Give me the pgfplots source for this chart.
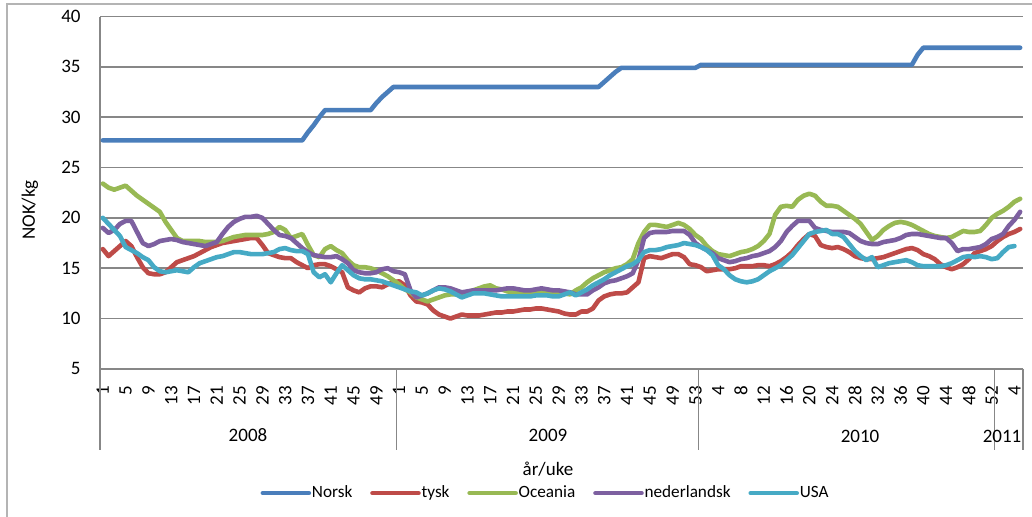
\documentclass[border=0pt]{standalone}
\usepackage{fontspec}
\setmainfont{Carlito}
\usepackage{pgfplots}
\pgfplotsset{compat=1.18}
\usepackage{pgfplotstable}
\definecolor{cNorsk}{HTML}{4A7EBB}
\definecolor{cTysk}{HTML}{BE4B48}
\definecolor{cOce}{HTML}{98B954}
\definecolor{cNed}{HTML}{7D60A0}
\definecolor{cUSA}{HTML}{46AAC5}
\definecolor{gridc}{HTML}{878787}
\definecolor{borderc}{HTML}{B4B4B4}
\pgfplotstableread{
i norsk tysk oceania ned usa
0 27.7 16.9 23.4 19.0 20.0
1 27.7 16.2 23.0 18.5 19.4
2 27.7 16.7 22.8 18.8 18.8
3 27.7 17.2 23.0 19.4 18.2
4 27.7 17.7 23.2 19.7 17.1
5 27.7 17.2 22.7 19.7 16.8
6 27.7 16.1 22.2 18.6 16.5
7 27.7 15.1 21.8 17.5 16.1
8 27.7 14.5 21.4 17.2 15.8
9 27.7 14.4 21.0 17.4 15.1
10 27.7 14.4 20.6 17.7 14.7
11 27.7 14.6 19.6 17.8 14.6
12 27.7 15.1 18.8 17.9 14.7
13 27.7 15.6 18.0 17.8 14.8
14 27.7 15.8 17.7 17.6 14.7
15 27.7 16.0 17.7 17.5 14.6
16 27.7 16.2 17.7 17.4 15.1
17 27.7 16.5 17.7 17.3 15.5
18 27.7 16.8 17.6 17.2 15.7
19 27.7 17.1 17.6 17.4 15.9
20 27.7 17.3 17.6 17.6 16.1
21 27.7 17.5 17.7 18.4 16.2
22 27.7 17.6 17.9 19.1 16.4
23 27.7 17.7 18.1 19.6 16.6
24 27.7 17.8 18.2 19.9 16.6
25 27.7 17.9 18.3 20.1 16.5
26 27.7 18.0 18.3 20.1 16.4
27 27.7 18.0 18.3 20.2 16.4
28 27.7 17.3 18.3 20.0 16.4
29 27.7 16.5 18.4 19.4 16.5
30 27.7 16.3 18.6 18.8 16.6
31 27.7 16.1 19.1 18.3 16.9
32 27.7 16.0 18.8 18.2 17.0
33 27.7 16.0 18.0 18.0 16.8
34 27.7 15.6 18.2 17.5 16.7
35 27.7 15.3 18.4 17.0 16.7
36 28.5 15.0 17.3 16.6 16.4
37 29.2 15.3 16.3 16.3 14.6
38 30.0 15.4 16.1 16.2 14.1
39 30.7 15.4 16.9 16.1 14.4
40 30.7 15.2 17.2 16.1 13.6
41 30.7 14.9 16.8 16.2 14.5
42 30.7 14.6 16.5 15.9 15.3
43 30.7 13.1 15.8 15.5 14.8
44 30.7 12.8 15.3 14.8 14.3
45 30.7 12.6 15.1 14.6 14.0
46 30.7 13.0 15.1 14.5 13.9
47 30.7 13.2 15.0 14.5 13.9
48 31.4 13.2 14.8 14.6 13.8
49 32.0 13.1 14.5 14.9 13.7
50 32.5 13.4 14.2 15.0 13.5
51 33.0 13.6 13.8 14.7 13.3
52 33.0 13.7 13.4 14.6 13.1
53 33.0 13.3 12.9 14.4 12.9
54 33.0 12.3 12.6 12.8 12.7
55 33.0 11.7 12.1 12.1 12.6
56 33.0 11.6 11.9 12.3 12.3
57 33.0 11.4 11.7 12.5 12.5
58 33.0 10.8 11.9 12.8 12.8
59 33.0 10.4 12.1 13.1 13.0
60 33.0 10.2 12.3 13.1 12.9
61 33.0 10.0 12.4 13.0 12.7
62 33.0 10.2 12.4 12.8 12.4
63 33.0 10.4 12.4 12.6 12.1
64 33.0 10.3 12.6 12.7 12.3
65 33.0 10.3 12.8 12.8 12.5
66 33.0 10.3 13.0 12.8 12.5
67 33.0 10.4 13.2 12.8 12.5
68 33.0 10.5 13.3 12.8 12.4
69 33.0 10.6 13.0 12.8 12.3
70 33.0 10.6 12.9 12.9 12.2
71 33.0 10.7 12.7 13.0 12.2
72 33.0 10.7 12.6 13.0 12.2
73 33.0 10.8 12.6 12.9 12.2
74 33.0 10.9 12.6 12.8 12.2
75 33.0 10.9 12.6 12.8 12.2
76 33.0 11.0 12.6 12.9 12.3
77 33.0 11.0 12.7 13.0 12.3
78 33.0 10.9 12.7 12.9 12.3
79 33.0 10.8 12.6 12.8 12.2
80 33.0 10.7 12.5 12.8 12.2
81 33.0 10.5 12.5 12.7 12.4
82 33.0 10.4 12.4 12.6 12.6
83 33.0 10.4 12.8 12.4 12.3
84 33.0 10.7 13.1 12.4 12.6
85 33.0 10.7 13.6 12.4 12.9
86 33.0 11.0 14.0 12.8 13.3
87 33.0 11.8 14.3 13.1 13.6
88 33.5 12.2 14.6 13.5 13.9
89 34.0 12.4 14.8 13.7 14.3
90 34.5 12.5 15.0 13.8 14.6
91 34.9 12.5 15.1 14.0 14.9
92 34.9 12.6 15.4 14.2 15.2
93 34.9 13.1 15.9 14.5 15.4
94 34.9 13.6 17.5 15.8 15.8
95 34.9 16.0 18.6 18.0 16.6
96 34.9 16.2 19.3 18.5 16.8
97 34.9 16.1 19.3 18.6 16.8
98 34.9 16.0 19.2 18.6 16.9
99 34.9 16.2 19.1 18.6 17.1
100 34.9 16.4 19.3 18.7 17.2
101 34.9 16.4 19.5 18.7 17.3
102 34.9 16.1 19.3 18.7 17.5
103 34.9 15.4 18.9 18.3 17.4
104 34.9 15.3 18.3 17.5 17.3
105 35.2 15.1 17.9 17.1 17.1
106 35.2 14.7 17.2 16.8 16.8
107 35.2 14.8 16.7 16.5 16.3
108 35.2 14.9 16.4 16.0 15.3
109 35.2 14.9 16.3 15.8 14.9
110 35.2 14.9 16.2 15.6 14.3
111 35.2 15.0 16.4 15.7 13.9
112 35.2 15.2 16.6 15.9 13.7
113 35.2 15.2 16.7 16.0 13.6
114 35.2 15.2 16.9 16.2 13.7
115 35.2 15.3 17.2 16.3 13.9
116 35.2 15.3 17.7 16.5 14.3
117 35.2 15.2 18.4 16.7 14.7
118 35.2 15.4 20.3 17.1 15.0
119 35.2 15.7 21.1 17.7 15.3
120 35.2 16.1 21.2 18.6 15.8
121 35.2 16.6 21.1 19.2 16.3
122 35.2 17.3 21.8 19.7 17.0
123 35.2 17.9 22.2 19.7 17.7
124 35.2 18.4 22.4 19.7 18.4
125 35.2 18.2 22.2 19.0 18.6
126 35.2 17.3 21.6 18.8 18.7
127 35.2 17.1 21.2 18.7 18.8
128 35.2 17.0 21.2 18.6 18.4
129 35.2 17.1 21.1 18.6 18.4
130 35.2 16.9 20.7 18.6 18.1
131 35.2 16.6 20.3 18.5 17.4
132 35.2 16.2 19.9 18.1 16.7
133 35.2 16.0 19.4 17.7 16.2
134 35.2 15.9 18.6 17.5 15.8
135 35.2 15.9 17.8 17.4 16.1
136 35.2 16.0 18.2 17.4 15.1
137 35.2 16.1 18.8 17.6 15.3
138 35.2 16.3 19.2 17.7 15.5
139 35.2 16.5 19.5 17.8 15.6
140 35.2 16.7 19.6 18.0 15.7
141 35.2 16.9 19.5 18.3 15.8
142 35.2 17.0 19.3 18.4 15.6
143 36.2 16.8 19.0 18.4 15.3
144 36.9 16.4 18.7 18.3 15.2
145 36.9 16.2 18.4 18.2 15.2
146 36.9 15.9 18.2 18.1 15.2
147 36.9 15.4 18.1 18.0 15.2
148 36.9 15.1 18.0 18.0 15.3
149 36.9 14.9 18.1 17.5 15.5
150 36.9 15.1 18.4 16.7 15.8
151 36.9 15.4 18.7 16.9 16.1
152 36.9 15.9 18.6 16.9 16.2
153 36.9 16.5 18.6 17.0 16.1
154 36.9 16.7 18.7 17.1 16.2
155 36.9 16.9 19.3 17.4 16.1
156 36.9 17.2 20.0 17.9 15.9
157 36.9 17.7 20.4 18.1 16.0
158 36.9 18.1 20.7 18.4 16.6
159 36.9 18.4 21.1 19.2 17.1
160 36.9 18.6 21.6 19.8 17.2
161 36.9 18.9 21.9 20.6 nan
}\datatable
\begin{document}
\begin{tikzpicture}[font=\fontsize{9.5}{11}\selectfont]
\useasboundingbox (0pt,0pt) rectangle (516pt,-258.5pt);
\draw[borderc, line width=0.7pt] (3.5pt,-262pt) -- (3.5pt,-2pt) -- (520pt,-2pt);
\begin{axis}[
  at={(50pt,-184.45pt)}, anchor=south west,
  scale only axis, width=461.5pt, height=176.2pt,
  xmin=-0.5, xmax=161.5, ymin=5, ymax=40,
  axis x line*=bottom, axis y line*=left,
  axis line style={draw=gridc, line width=0.75pt},
  ytick={5,10,...,40},
  ymajorgrids, grid style={draw=gridc, line width=0.75pt},
  major tick length=0pt,
  xtick={0,4,...,160},
  xticklabels={1,5,9,13,17,21,25,29,33,37,41,45,49,1,5,9,13,17,21,25,29,33,37,41,45,49,53,4,8,12,16,20,24,28,32,36,40,44,48,52,4},
  xticklabel style={rotate=90, anchor=east, inner sep=0pt},
  xticklabel shift=8.5pt,
  yticklabel style={anchor=east, inner sep=0pt},
  yticklabel shift=9.5pt,
  /pgf/number format/assume math mode=true,
  clip=false,
  legend columns=-1,
  legend style={draw=none, fill=none, at={(0.4821,-0.3524)}, anchor=center,
    inner sep=0pt, font=\fontsize{8.6}{10}\selectfont,
    nodes={inner xsep=0.4pt, inner ysep=1pt},
    /tikz/every even column/.append style={column sep=8.5pt}},
  legend image code/.code={\draw[#1, line width=2.3pt] (0pt,0pt) -- (23pt,0pt);},
  every axis plot/.append style={line width=2.3pt, line join=round, line cap=round, mark=none},
]
\addplot[cNorsk] table[x=i, y=norsk] {\datatable};
\addplot[cTysk] table[x=i, y=tysk] {\datatable};
\addplot[cOce] table[x=i, y=oceania] {\datatable};
\addplot[cNed] table[x=i, y=ned] {\datatable};
\addplot[cUSA] table[x=i, y=usa] {\datatable};
\legend{Norsk,tysk,Oceania,nederlandsk,USA}
\draw[gridc, line width=0.75pt] (axis cs:-0.5,5) -- ++(0pt,-40.5pt);
\draw[gridc, line width=0.75pt] (axis cs:51.5,5) -- ++(0pt,-40.5pt);
\draw[gridc, line width=0.75pt] (axis cs:104.5,5) -- ++(0pt,-40.5pt);
\draw[gridc, line width=0.75pt] (axis cs:156.5,5) -- ++(0pt,-40.5pt);
\draw[gridc, line width=0.75pt] (axis cs:161.5,5) -- ++(0pt,-40.5pt);
\end{axis}
\node at (124pt,-217.5pt) {2008};
\node at (274pt,-217.5pt) {2009};
\node at (430pt,-218pt) {2010};
\node at (501pt,-218pt) {2011};
\node at (274pt,-234.5pt) {år/uke};
\node[rotate=90] at (15pt,-105pt) {NOK/kg};
\end{tikzpicture}
\end{document}
